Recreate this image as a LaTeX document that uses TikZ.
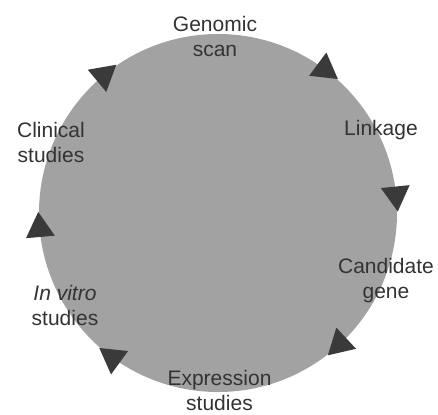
\documentclass[tikz,border=0pt]{standalone}
\usepackage{fontspec}
\setmainfont{Liberation Sans}
\definecolor{disc}{HTML}{A2A2A2}
\definecolor{tricol}{HTML}{3A3A3A}
\definecolor{txt}{HTML}{333333}
\begin{document}
\begin{tikzpicture}[x=1pt,y=1pt,
  lab/.style={align=center,text=txt,font=\fontsize{21}{25}\selectfont,inner sep=0pt},
  tri/.style={fill=tricol}]
\useasboundingbox (-218,-201) rectangle (220,213);
\fill[disc] (0,0) circle (179);
\foreach \a in {129.8,53.5,5.8,-47,-126,185}{
  \fill[tri] ([shift={(\a:179)}]\a-90:16.7) -- ([shift={(\a:179)}]\a+30:16.7) -- ([shift={(\a:179)}]\a+150:16.7) -- cycle;
}
\node[lab] (gs) at (-3,176.5) {Genomic\\scan};
\node[lab] (lk) at (163,83) {Linkage};
\node[lab] (cg) at (168,-67.5) {Candidate\\gene};
\node[lab] (es) at (1.5,-177.5) {Expression\\studies};
\node[lab] (iv) at (-153,-92.5) {\textit{In vitro}\\studies};
\node[lab] (cs) at (-167,70.5) {Clinical\\studies};
\end{tikzpicture}
\end{document}
